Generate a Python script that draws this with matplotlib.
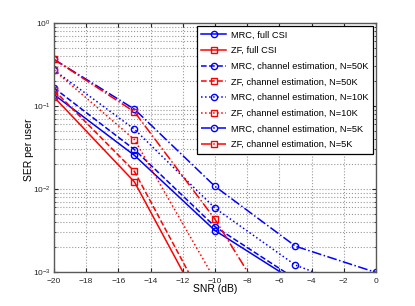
import numpy as np
import matplotlib
matplotlib.use('Agg')
import matplotlib.pyplot as plt
from matplotlib.ticker import LogLocator, NullFormatter

plt.rcParams['font.family'] = ['Liberation Sans', 'DejaVu Sans']

# SNR points (dB)
snr = [-20, -15, -10, -5, 0]

# SER per user (values below 1e-3 are off-axis extrapolations)
mrc_full = [0.137, 0.0253, 0.00314, 0.00076, 0.0002]
zf_full = [0.128, 0.0121, 0.00019, 0.00001, 0.000001]
mrc_50k = [0.165, 0.0297, 0.0035, 0.00082, 0.00022]
zf_50k = [0.155, 0.0162, 0.00025, 0.00001, 0.000001]
mrc_10k = [0.27, 0.0523, 0.00585, 0.0012, 0.00052]
zf_10k = [0.27, 0.0392, 0.0008, 0.00002, 0.000001]
mrc_5k = [0.364, 0.0912, 0.0107, 0.00203, 0.00098]
zf_5k = [0.364, 0.0847, 0.0043, 0.000117, 0.00001]

labels = ['MRC, full CSI', 'ZF, full CSI',
          'MRC, channel estimation, N=50K', 'ZF, channel estimation, N=50K',
          'MRC, channel estimation, N=10K', 'ZF, channel estimation, N=10K',
          'MRC, channel estimation, N=5K', 'ZF, channel estimation, N=5K']

fig = plt.figure(figsize=(4.15, 3.06), dpi=100)
ax = fig.add_axes([0.130, 0.112, 0.776, 0.813])

series = [(mrc_full, 'b', '-', 'o'), (zf_full, 'r', '-', 's'),
          (mrc_50k, 'b', '--', 'o'), (zf_50k, 'r', '--', 's'),
          (mrc_10k, 'b', ':', 'o'), (zf_10k, 'r', ':', 's'),
          (mrc_5k, 'b', '-.', 'o'), (zf_5k, 'r', '-.', 's')]

for (vals, c, ls, m), lab in zip(series, labels):
    ax.semilogy(snr, vals, color=c, linestyle=ls, marker=m, markersize=4.5,
                markerfacecolor='none', markeredgewidth=1.0, linewidth=1.1, label=lab)

ax.set_xlim(-20, 0)
ax.set_ylim(1e-3, 1)
ax.set_xticks(np.arange(-20, 1, 2))
ax.yaxis.set_major_locator(LogLocator(base=10, numticks=10))
ax.yaxis.set_minor_locator(LogLocator(base=10, subs=np.arange(2, 10), numticks=10))
ax.yaxis.set_minor_formatter(NullFormatter())

ax.grid(True, which='major', linestyle=':', color='0.6', linewidth=0.8)
ax.grid(True, which='minor', axis='y', linestyle=':', color='0.6', linewidth=0.8)
ax.tick_params(which='both', direction='in', top=True, right=True, labelsize=6,
               colors='0.15', length=3)
ax.tick_params(axis='x', pad=4.5)
ax.tick_params(axis='y', pad=2.5)
ax.tick_params(which='minor', length=1.5)
for s in ax.spines.values():
    s.set_color('0.35')
    s.set_linewidth(1.0)

ax.set_xlabel('SNR (dB)', fontsize=7.5)
ax.set_ylabel('SER per user', fontsize=7.5)
ax.xaxis.set_label_coords(0.5, -0.048)
ax.yaxis.set_label_coords(-0.062, 0.49)

leg = ax.legend(loc='upper right', fontsize=6.7, fancybox=False, framealpha=1,
                edgecolor='black', handlelength=2.7, labelspacing=0.72,
                borderaxespad=0.3, borderpad=0.5, handletextpad=0.5)
leg.get_frame().set_linewidth(0.9)

fig.savefig('out.png', dpi=100)
